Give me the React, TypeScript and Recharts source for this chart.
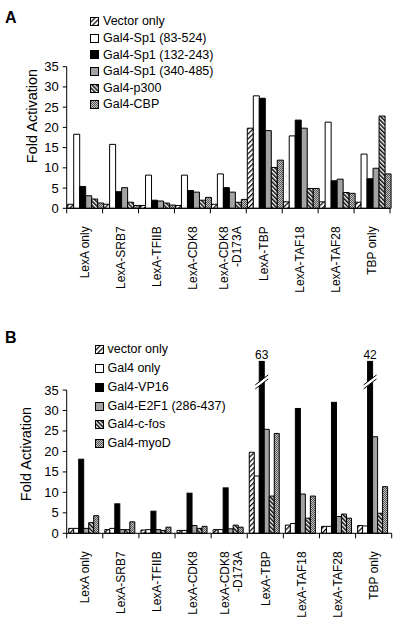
import { BarChart, Bar, XAxis, YAxis, Legend, Label, ReferenceLine } from "recharts";

const categories = [
  "LexA only",
  "LexA-SRB7",
  "LexA-TFIIB",
  "LexA-CDK8",
  "LexA-CDK8\n-D173A",
  "LexA-TBP",
  "LexA-TAF18",
  "LexA-TAF28",
  "TBP only",
];
const yTicks = [0, 5, 10, 15, 20, 25, 30, 35];

// Panel A
const namesA = ["Vector only", "Gal4-Sp1 (83-524)", "Gal4-Sp1 (132-243)", "Gal4-Sp1 (340-485)", "Gal4-p300", "Gal4-CBP"];
const vectorA = [1.0, 1.0, 0.7, 0.7, 1.0, 19.8, 1.6, 1.6, 1.5];
const sp1Full = [18.3, 15.8, 8.2, 8.2, 8.5, 27.8, 17.9, 21.3, 13.4];
const sp1Mid = [5.4, 4.1, 2.0, 4.4, 5.1, 27.2, 21.8, 6.8, 7.3];
const sp1C = [3.1, 5.1, 1.8, 4.0, 4.0, 19.2, 19.8, 7.2, 9.9];
const p300 = [2.3, 1.5, 1.3, 2.0, 1.5, 10.1, 4.9, 3.9, 22.8];
const cbp = [1.3, 0.7, 0.8, 2.7, 2.2, 11.9, 4.9, 3.7, 8.5];

// Panel B
const namesB = ["vector only", "Gal4 only", "Gal4-VP16", "Gal4-E2F1 (286-437)", "Gal4-c-fos", "Gal4-myoD"];
const vectorB = [1.2, 0.9, 0.8, 0.7, 0.9, 19.8, 2.0, 1.7, 1.9];
const gal4Only = [1.2, 1.2, 0.9, 0.7, 0.9, 14.0, 2.4, 1.7, 1.8];
const vp16 = [18.1, 7.2, 5.4, 9.8, 11.1, 63, 30.5, 32.0, 42];
const e2f1 = [1.2, 0.9, 0.9, 1.9, 1.1, 25.4, 9.6, 4.1, 23.6];
const cfos = [2.6, 0.9, 0.7, 1.2, 2.0, 9.1, 3.7, 4.7, 4.9];
const myod = [4.3, 2.8, 1.5, 1.7, 1.5, 24.4, 9.1, 3.7, 11.4];

// broken axis: bars above 35 are cut and drawn up to 42
const AXIS_MAX = 35;
const BREAK_TOP = 42;
const BREAK_AT = 36.5;

const FILLS = ["url(#hatchUp)", "#ffffff", "#000000", "#a3a3a3", "url(#hatchDown)", "url(#dots)"];
const FONT = '"Liberation Sans", Arial, Helvetica, sans-serif';

const rowsA = categories.map((name, i) => ({
  name,
  s0: vectorA[i], s1: sp1Full[i], s2: sp1Mid[i], s3: sp1C[i], s4: p300[i], s5: cbp[i],
}));

const rowsB = categories.map((name, i) => ({
  name,
  s0: vectorB[i], s1: gal4Only[i], s2: Math.min(vp16[i], BREAK_TOP), s2Actual: vp16[i],
  s3: e2f1[i], s4: cfos[i], s5: myod[i],
}));

function CategoryTick(props: any) {
  const { x, y, payload, index } = props;
  const half = payload.offset ?? 0;
  const lines = String(payload.value).split("\n");
  const ty = y + 18;
  return (
    <g>
      <line x1={x - half} x2={x - half} y1={y} y2={y + 5} stroke="#000" />
      {index === categories.length - 1 && (
        <line x1={x + half} x2={x + half} y1={y} y2={y + 5} stroke="#000" />
      )}
      <text x={x} y={ty} transform={`rotate(-90 ${x} ${ty})`} textAnchor="end" fontSize={12} fill="#000" fontFamily={FONT}>
        {lines.map((l, i) => (
          <tspan key={i} x={x} dy={lines.length === 1 ? "0.35em" : i === 0 ? "0em" : "1.05em"}>{l}</tspan>
        ))}
      </text>
    </g>
  );
}

function ValueTick(props: any) {
  const { x, y, payload } = props;
  return (
    <text x={x} y={y} textAnchor="end" dominantBaseline="central" fontSize={13} fill="#000" fontFamily={FONT}>
      {payload.value}
    </text>
  );
}

function BrokenBar(props: any) {
  const { x, y, width, height, fill, payload } = props;
  const actual = payload.s2Actual;
  const rect = <rect x={x} y={y} width={width} height={height} fill={fill} stroke="#000" strokeWidth={1} />;
  if (actual <= AXIS_MAX) return rect;
  const yb = y + height * (1 - BREAK_AT / BREAK_TOP);
  const x1 = x - 4;
  const x2 = x + width + 4;
  const gap = 4;
  return (
    <g>
      {rect}
      <polygon points={`${x1},${yb + 5} ${x2},${yb - 5} ${x2},${yb - 5 - gap} ${x1},${yb + 5 - gap}`} fill="#fff" />
      <line x1={x1} y1={yb + 5} x2={x2} y2={yb - 5} stroke="#000" strokeWidth={1} />
      <line x1={x1} y1={yb + 5 - gap} x2={x2} y2={yb - 5 - gap} stroke="#000" strokeWidth={1} />
      <text x={x + width / 2} y={y - 2.5} textAnchor="middle" fontSize={12} fill="#000" fontFamily={FONT}>{actual}</text>
    </g>
  );
}

function legendContent(names: string[], rowH: number, fontSize: number) {
  return () => (
    <div style={{ fontFamily: FONT }}>
      {names.map((n, i) => (
        <div key={n} style={{ display: "flex", alignItems: "center", height: rowH }}>
          <svg width={9} height={9} style={{ marginRight: 4, flexShrink: 0 }}>
            <rect x={0.5} y={0.5} width={8} height={8} fill={FILLS[i]} stroke="#000" />
          </svg>
          <span style={{ fontSize, lineHeight: `${rowH}px`, whiteSpace: "nowrap", color: "#000" }}>{n}</span>
        </div>
      ))}
    </div>
  );
}

function axisTitle(cx: number, cy: number) {
  return () => (
    <text x={cx} y={cy} transform={`rotate(-90 ${cx} ${cy})`} textAnchor="middle" dominantBaseline="central" fontSize={14.5} fill="#000" fontFamily={FONT}>
      Fold Activation
    </text>
  );
}

export default function App() {
  return (
    <div style={{ position: "relative", width: 402, height: 627, background: "#fff", fontFamily: FONT }}>
      <style>{"body{margin:0;background:#fff}"}</style>
      <svg width={0} height={0} style={{ position: "absolute" }}>
        <defs>
          <pattern id="hatchUp" patternUnits="userSpaceOnUse" width={3.5} height={3.5} patternTransform="rotate(45)">
            <rect width={3.5} height={3.5} fill="#fff" />
            <line x1={0.6} y1={0} x2={0.6} y2={3.5} stroke="#000" strokeWidth={1.2} />
          </pattern>
          <pattern id="hatchDown" patternUnits="userSpaceOnUse" width={3} height={3} patternTransform="rotate(-45)">
            <rect width={3} height={3} fill="#fff" />
            <line x1={0.8} y1={0} x2={0.8} y2={3} stroke="#000" strokeWidth={1.5} />
          </pattern>
          <pattern id="dots" patternUnits="userSpaceOnUse" width={2} height={2}>
            <rect width={2} height={2} fill="#c4c4c4" />
            <rect width={1} height={1} fill="#555" />
            <rect x={1} y={1} width={1} height={1} fill="#555" />
          </pattern>
        </defs>
      </svg>

      <BarChart width={402} height={300} data={rowsA} margin={{ top: 66.7, right: 12, bottom: 0, left: 0 }} barCategoryGap={1} barGap={0}>
        <XAxis dataKey="name" interval={0} height={91.7} tickLine={false} tickSize={0} tickMargin={0} axisLine={{ stroke: "#000" }} tick={<CategoryTick />} />
        <YAxis width={66.7} domain={[0, AXIS_MAX]} ticks={yTicks} interval={0} minTickGap={0} tickSize={4} tickMargin={4} axisLine={{ stroke: "#000" }} tickLine={{ stroke: "#000" }} tick={<ValueTick />}>
          <Label content={axisTitle(32, 116)} />
        </YAxis>
        <Legend layout="vertical" align="center" verticalAlign="middle" wrapperStyle={{ left: 90, top: 13.4, width: 170 }} content={legendContent(namesA, 16.6, 12.5)} />
        {namesA.map((n, i) => (
          <Bar key={n} dataKey={`s${i}`} name={n} fill={FILLS[i]} stroke="#000" strokeWidth={1} isAnimationActive={false} />
        ))}
      </BarChart>

      <BarChart width={402} height={327} data={rowsB} margin={{ top: 61.4, right: 10.3, bottom: 0, left: 0 }} barCategoryGap={2} barGap={0}>
        <XAxis dataKey="name" interval={0} height={93.7} tickLine={false} tickSize={0} tickMargin={0} axisLine={{ stroke: "#000" }} tick={<CategoryTick />} />
        <YAxis width={66.7} domain={[0, BREAK_TOP]} ticks={yTicks} interval={0} minTickGap={0} tickSize={4} tickMargin={4} axisLine={false} tickLine={{ stroke: "#000" }} tick={<ValueTick />}>
          <Label content={axisTitle(26, 154)} />
        </YAxis>
        <ReferenceLine segment={[{ x: categories[0], y: 0 }, { x: categories[0], y: AXIS_MAX }]} position="start" stroke="#000" ifOverflow="visible" />
        <Legend layout="vertical" align="center" verticalAlign="middle" wrapperStyle={{ left: 94.5, top: 39.9, width: 170 }} content={legendContent(namesB, 18.9, 12.5)} />
        {namesB.map((n, i) => (
          <Bar key={n} dataKey={`s${i}`} name={n} fill={FILLS[i]} stroke="#000" strokeWidth={1} isAnimationActive={false} shape={i === 2 ? <BrokenBar /> : undefined} />
        ))}
      </BarChart>

      <svg width={402} height={627} style={{ position: "absolute", left: 0, top: 0, pointerEvents: "none" }}>
        <text x={5} y={23.3} fontSize={16} fontWeight="bold" fill="#000" fontFamily={FONT}>A</text>
        <text x={5} y={343.3} fontSize={16} fontWeight="bold" fill="#000" fontFamily={FONT}>B</text>
      </svg>
    </div>
  );
}
